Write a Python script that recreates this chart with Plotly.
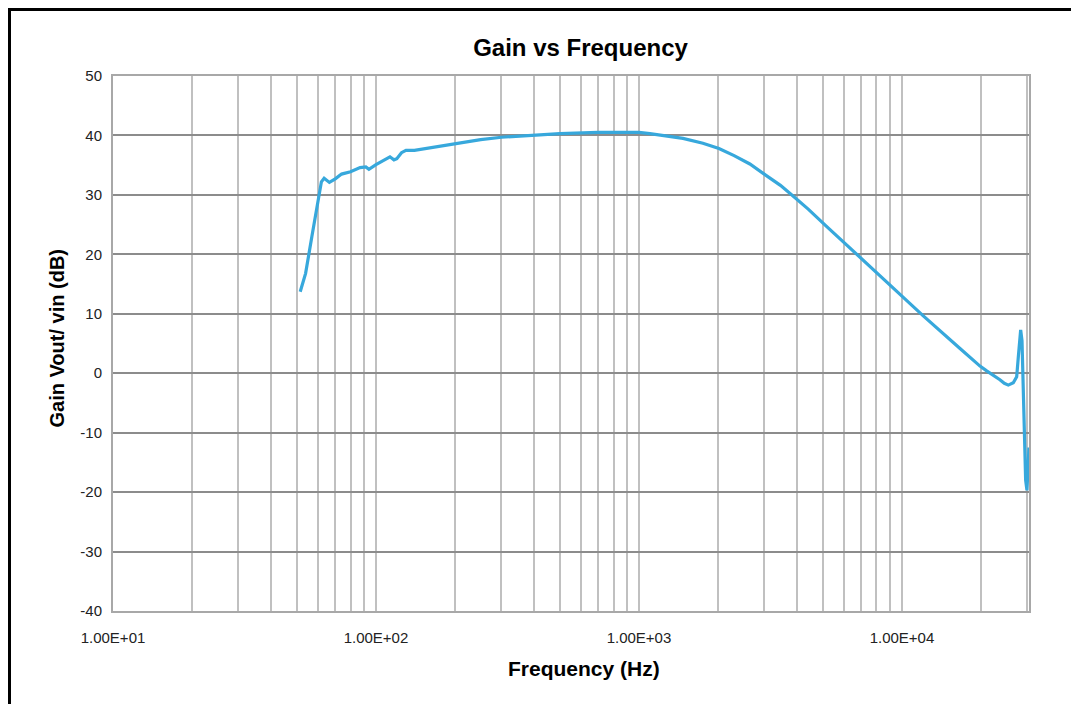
import plotly.graph_objects as go

freq_hz = [51.5, 54, 57, 59.5, 62, 63.5, 66.5, 70, 74, 80, 87, 91.5, 94, 100, 106, 110,
           113, 117, 120, 125, 130, 140, 160, 200, 250, 300, 400, 500, 700, 1000, 1100,
           1250, 1470, 1750, 2014, 2300, 2640, 3060, 3450, 3882, 4400, 5140, 6808, 10000,
           12020, 16620, 18140, 19800, 20990, 22240, 23570, 24500, 25370, 26500, 27300, 27690, 28100,
           28270, 28600, 28770, 29100, 29530, 29870, 30210, 30400]
gain_db = [13.7, 16.8, 22.9, 28.0, 32.2, 32.8, 32.1, 32.7, 33.5, 33.9, 34.6, 34.7, 34.3, 35.1, 35.7, 36.1,
           36.4, 35.9, 36.1, 37.1, 37.5, 37.5, 37.9, 38.6, 39.3, 39.7, 40.1, 40.3, 40.5, 40.5, 40.3,
           40.0, 39.5, 38.7, 37.8, 36.6, 35.2, 33.2, 31.6, 29.7, 27.6, 24.8, 19.8, 12.8,
           9.7, 4.15, 2.6, 1.2, 0.4, -0.3, -1.1, -1.7, -2.0, -1.6, -0.6, 2.7, 6.7,
           7.3, 5.5, 1.1, -7.4, -18.0, -19.7, -15.8, -12.5]

x_major = [10, 100, 1000, 10000]
x_labels = ["1.00E+01", "1.00E+02", "1.00E+03", "1.00E+04"]
x_minor = [m * d for d in [10, 100, 1000, 10000] for m in range(2, 10) if m * d < 30400]
y_ticks = [50, 40, 30, 20, 10, 0, -10, -20, -30, -40]
y_labels = ["50", "40", "30", "20", "10", "0", "-10", "-20", "-30", "-40"]

fig = go.Figure()
fig.add_trace(go.Scatter(x=freq_hz, y=gain_db, mode="lines",
                         line=dict(color="#37a8dc", width=3.2), showlegend=False))

# page body has an 8px margin: figure is shrunk and margins shifted accordingly
PL, PT, PW, PH = 113, 76, 916, 535  # plot area in page pixels


def px_to_paper_x(px):
    return (px - PL) / PW


def px_to_paper_y(py):
    return (PT + PH - py) / PH


fig.update_layout(
    width=1071, height=696,
    margin=dict(l=105, r=50, t=68, b=93),
    paper_bgcolor="white", plot_bgcolor="white",
    font=dict(family="Liberation Sans, Arial, sans-serif", color="#222", size=15),
    title=dict(text="<b>Gain vs Frequency</b>", x=(580.5 - 8) / 1071, xanchor="center",
               y=1 - (48 - 8) / 696, yanchor="middle",
               font=dict(size=24, color="black")),
)
fig.update_xaxes(
    type="log", range=[1, 4.483],
    tickmode="array", tickvals=x_major, ticktext=x_labels,
    showgrid=True, gridcolor="#c0c0c0", gridwidth=2,
    minor=dict(tickmode="array", tickvals=x_minor, showgrid=True,
               gridcolor="#c0c0c0", gridwidth=2),
    showline=True, linecolor="#a8a8a8", linewidth=2, mirror=True,
    ticks="", ticklabelstandoff=12, zeroline=False,
)
fig.update_yaxes(
    range=[-40, 50], tickmode="array", tickvals=y_ticks, ticktext=y_labels,
    showgrid=True, gridcolor="#8c8c8c", gridwidth=2,
    showline=True, linecolor="#a8a8a8", linewidth=2, mirror=True,
    ticks="", ticklabelstandoff=6, zeroline=False,
)

fig.add_annotation(text="<b>Frequency (Hz)</b>", xref="paper", yref="paper",
                   x=px_to_paper_x(583.5), y=px_to_paper_y(668),
                   xanchor="center", yanchor="middle", showarrow=False,
                   font=dict(size=21, color="black"))
fig.add_annotation(text="<b>Gain Vout/ vin (dB)</b>", xref="paper", yref="paper",
                   x=px_to_paper_x(56), y=px_to_paper_y(338.5), textangle=-90,
                   xanchor="center", yanchor="middle", showarrow=False,
                   font=dict(size=20, color="black"))

fig.add_shape(type="rect", xref="paper", yref="paper",
              x0=px_to_paper_x(9.5), x1=1.2, y0=-0.3, y1=px_to_paper_y(9.5),
              line=dict(color="black", width=3), fillcolor="rgba(0,0,0,0)", layer="below")

fig.write_html("out.html")
